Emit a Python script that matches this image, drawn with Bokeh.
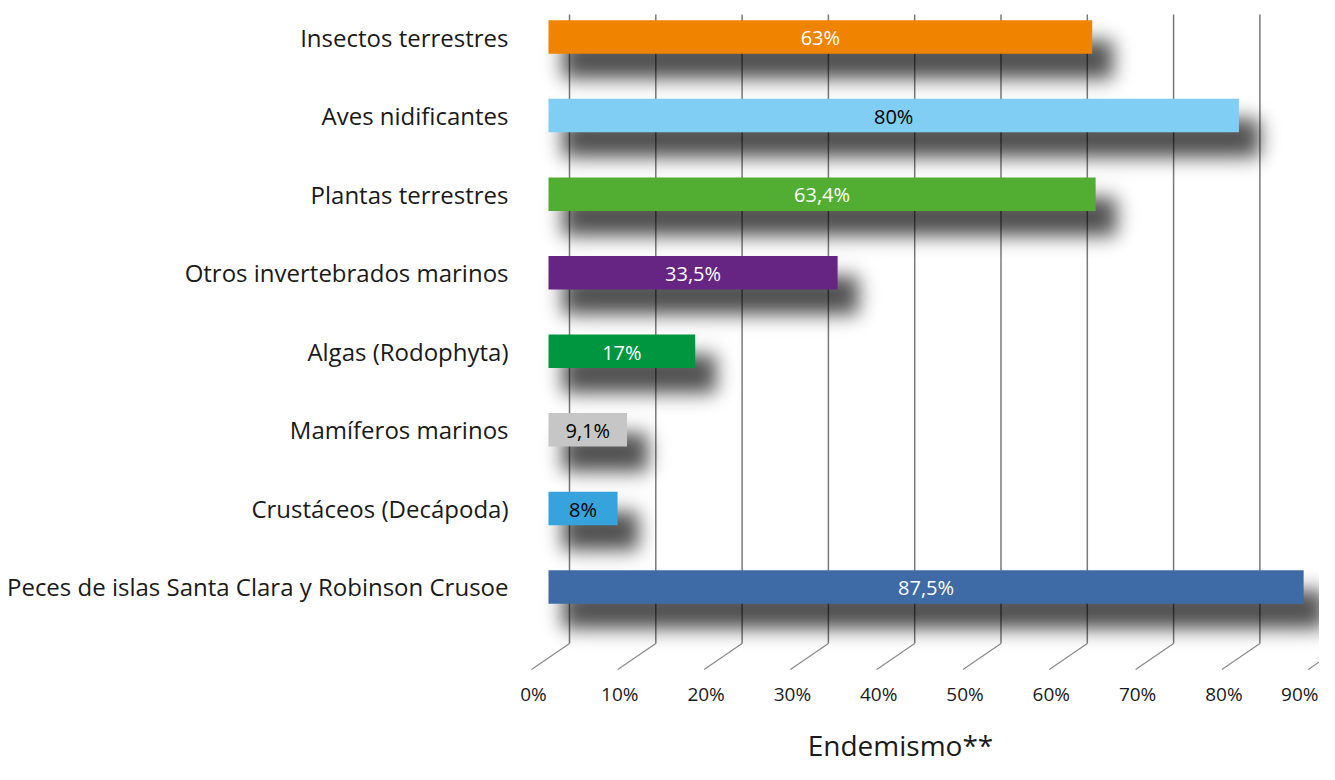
import math
import numpy as np
from bokeh.plotting import figure
from bokeh.models import Range1d
from bokeh.core.properties import value
from bokeh.embed import file_html
from bokeh.resources import INLINE

# ---------------- data ----------------
categories = [
    "Insectos terrestres",
    "Aves nidificantes",
    "Plantas terrestres",
    "Otros invertebrados marinos",
    "Algas (Rodophyta)",
    "Mamíferos marinos",
    "Crustáceos (Decápoda)",
    "Peces de islas Santa Clara y Robinson Crusoe",
]
endemism = [63.0, 80.0, 63.4, 33.5, 17.0, 9.1, 8.0, 87.5]
value_labels = ["63%", "80%", "63,4%", "33,5%", "17%", "9,1%", "8%", "87,5%"]
bar_colors = ["#F08300", "#80CEF4", "#52AE32", "#662483", "#009640", "#C6C6C6", "#36A3DC", "#3E6BA6"]
label_colors = ["white", "black", "white", "white", "white", "black", "black", "white"]
tick_values = [0, 10, 20, 30, 40, 50, 60, 70, 80, 90]
tick_labels = ["0%", "10%", "20%", "30%", "40%", "50%", "60%", "70%", "80%", "90%"]
x_title = "Endemismo**"

# ---------------- layout ----------------
W, H = 1319, 764
PX = 8.63        # pixels per percent
X0 = 548         # canvas px of 0 %
ROW = 78.57      # pixels per category row
Y0 = 36.5        # canvas px of first row centre
BAR_PX = 33.5
BAR_H = BAR_PX / ROW
FONT = "Open Sans"

def xi(px):
    return (px - X0) / PX

def yd(px):
    return -(px - Y0) / ROW

p = figure(width=W, height=H, output_backend="svg", toolbar_location=None,
           x_range=Range1d(xi(0), xi(W)), y_range=Range1d(yd(H), yd(0)),
           min_border=0, outline_line_color=None)
p.axis.visible = False
p.grid.visible = False
p.background_fill_color = "white"
p.border_fill_color = "white"

n = len(categories)
ypos = [-i for i in range(n)]

# ---------- back-wall gridlines and floor diagonals ----------
g_off = 21 / PX
gx = [v + g_off for v in tick_values]
p.segment(x0=gx, y0=[yd(14)] * len(gx), x1=gx, y1=[yd(643)] * len(gx),
          line_color="#7a7a7a", line_width=1.5)
p.segment(x0=gx, y0=[yd(643)] * len(gx),
          x1=[v - 17 / PX for v in tick_values], y1=[yd(669)] * len(gx),
          line_color="#8a8a8a", line_width=1.2)

# ---------- soft drop shadows (gaussian-blurred rectangles, rendered as an RGBA image) ----------
SH_L, SH_R, SH_T, SH_B = 14, 21, 20, 25   # shadow edge offsets in px
SIG, A = 9.5, 0.70
XA, XB, YA, YB = 530, W, 0, 700
xs = np.arange(XA, XB) + 0.5
ys = np.arange(YA, YB) + 0.5
verf = np.vectorize(math.erf)

def band(coord, lo, hi):
    k = SIG * math.sqrt(2)
    return 0.5 * (verf((coord - lo) / k) - verf((coord - hi) / k))

trans = np.ones((len(ys), len(xs)))
for i, v in enumerate(endemism):
    left = X0 + SH_L
    right = X0 + v * PX + SH_R
    top = Y0 + i * ROW - BAR_PX / 2 + SH_T
    bottom = Y0 + i * ROW + BAR_PX / 2 + SH_B
    trans *= 1 - A * np.outer(band(ys, top, bottom), band(xs, left, right))
alpha = np.clip((1 - trans) * 255, 0, 255).astype(np.uint8)
rgba = np.zeros((len(ys), len(xs), 4), dtype=np.uint8)
rgba[..., 3] = alpha
img = rgba.view(np.uint32).reshape(len(ys), len(xs))[::-1].copy()
p.image_rgba(image=[img], x=xi(XA), y=yd(YB), dw=(XB - XA) / PX, dh=(YB - YA) / ROW)

# ---------- bars ----------
p.hbar(y=ypos, left=0, right=endemism, height=BAR_H, fill_color=bar_colors, line_color=None)

# ---------- value labels ----------
p.text(x=[v / 2 for v in endemism], y=[y - 0.01 for y in ypos], text=value_labels,
       text_color=label_colors, text_align="center", text_baseline="middle",
       text_font=value(FONT), text_font_size="20px")

# ---------- category labels ----------
p.text(x=[xi(508)] * n, y=ypos, text=categories, text_color="#1a1a1a",
       text_align="right", text_baseline="middle", text_font=value(FONT),
       text_font_size="24px")

# ---------- tick labels ----------
p.text(x=[v - 15 / PX for v in tick_values[:-1]], y=[yd(693)] * (len(tick_values) - 1),
       text=tick_labels[:-1], text_color="#1a1a1a", text_align="center",
       text_baseline="middle", text_font=value(FONT), text_font_size="19px")
p.text(x=[xi(W - 1)], y=[yd(693)], text=tick_labels[-1:], text_color="#1a1a1a",
       text_align="right", text_baseline="middle", text_font=value(FONT),
       text_font_size="19px")

# ---------- axis title ----------
p.text(x=[xi(900)], y=[yd(763)], text=[x_title], text_color="#1a1a1a",
       text_align="center", text_baseline="bottom", text_font=value(FONT),
       text_font_size="28px")

open("out.html", "w").write(file_html(p, INLINE))
